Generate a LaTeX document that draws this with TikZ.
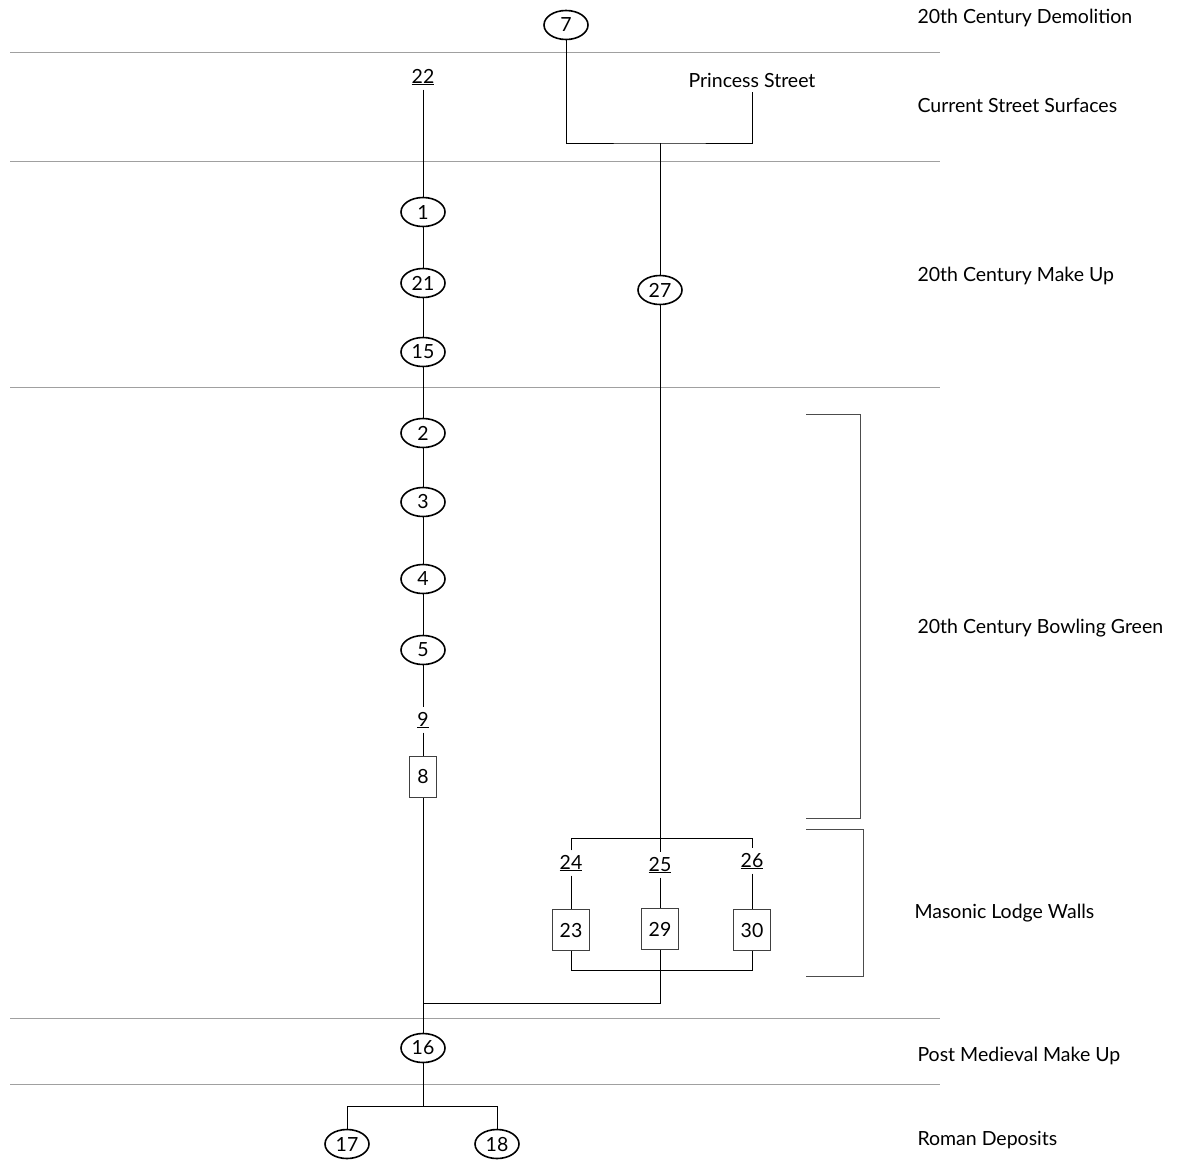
\documentclass[tikz,border=0pt]{standalone}
\usepackage{fontspec}
\setmainfont{Lato}
\usetikzlibrary{shapes.geometric}
\definecolor{sepgray}{RGB}{160,160,160}
\tikzset{
  ctx/.style={draw, ellipse, line width=1.6pt, minimum width=44pt, minimum height=29pt, inner sep=0pt},
  grp/.style={draw, line width=0.8pt, draw=black!75, inner sep=3pt, minimum width=37pt, minimum height=41pt},
  tall/.style={grp, minimum width=27pt},
  und/.style={inner sep=4pt},
  phase/.style={anchor=west, inner sep=0pt},
  sep/.style={draw=sepgray, line width=1pt},
  brk/.style={draw=black!70, line width=1pt},
}
\begin{document}
\begin{tikzpicture}[x=1pt,y=-1pt,font=\fontsize{19.5}{23}\selectfont,line width=1pt]
	\useasboundingbox (0,0) rectangle (1185,1162);
	% phase boundaries
	\foreach \yy in {52,161,387,1018,1084}
		\draw [sep] (10,\yy) -- (940,\yy);
	% phase names
	\node [phase] (ph1) at (917,18) {20th Century Demolition};
	\node [phase] (ph2) at (917,105) {Current Street Surfaces};
	\node [phase] (ph3) at (917,276) {20th Century Make Up};
	\node [phase] (ph4) at (917,628) {20th Century Bowling Green};
	\node [phase] (ph5) at (914,913) {Masonic Lodge Walls};
	\node [phase] (ph6) at (917,1056) {Post Medieval Make Up};
	\node [phase] (ph7) at (917,1140) {Roman Deposits};
	% contexts
	\node [ctx] (c7) at (566,25) {7};
	\node [und] (c22) at (423,77) {\underline{22}};
	\node [und] (ps) at (752,80) {Princess Street};
	\node [ctx] (c1) at (423,212) {1};
	\node [ctx] (c21) at (423,283) {21};
	\node [ctx] (c15) at (423,352) {15};
	\node [ctx] (c27) at (660,290) {27};
	\node [ctx] (c2) at (423,433) {2};
	\node [ctx] (c3) at (423,502) {3};
	\node [ctx] (c4) at (423,579) {4};
	\node [ctx] (c5) at (423,650) {5};
	\node [und] (c9) at (423,720) {\underline{9}};
	\node [tall] (c8) at (423,777) {8};
	\node [und] (c24) at (571,863) {\underline{24}};
	\node [und] (c25) at (660,865) {\underline{25}};
	\node [und] (c26) at (752,861) {\underline{26}};
	\node [grp] (c23) at (571,930) {23};
	\node [grp] (c29) at (660,929) {29};
	\node [grp] (c30) at (752,930) {30};
	\node [ctx] (c16) at (423,1048) {16};
	\node [ctx] (c17) at (347,1144) {17};
	\node [ctx] (c18) at (497,1144) {18};
	% junctions
	\coordinate (j1) at (660,143);
	\coordinate (j2) at (660,838);
	\coordinate (j3) at (660,970);
	\coordinate (j4) at (423,1003);
	\coordinate (j5) at (423,1106);
	% connectors
	\draw (c7) |- (j1) -| (ps);
	\draw (j1) -- (c27) -- (j2);
	\draw (c24) |- (j2) -| (c26);
	\draw (j2) -- (c25);
	\draw (c24) -- (c23);
	\draw (c25) -- (c29);
	\draw (c26) -- (c30);
	\draw (c23) |- (j3) -| (c30);
	\draw (c29) |- (j4);
	\draw (c22) -- (c1) -- (c21) -- (c15) -- (c2) -- (c3) -- (c4) -- (c5) -- (c9) -- (c8) -- (c16);
	\draw (c16) -- (j5);
	\draw (c17) |- (j5) -| (c18);
	% brackets
	\draw [brk] (806,414) -| (860,818) -- (806,818);
	\draw [brk] (806,829) -| (863,976) -- (806,976);
\end{tikzpicture}
\end{document}
